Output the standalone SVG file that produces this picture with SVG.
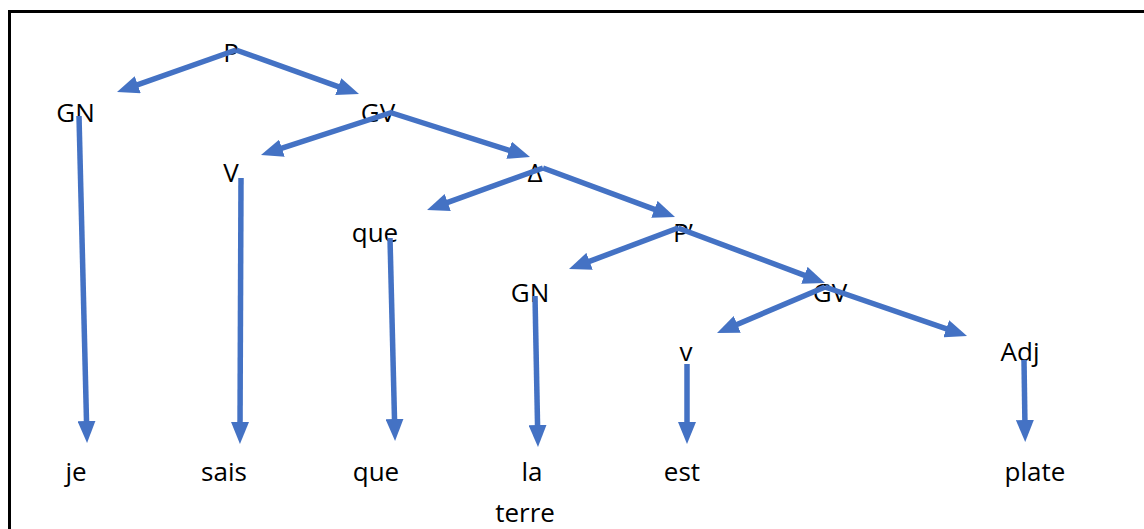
<svg xmlns="http://www.w3.org/2000/svg" width="1144" height="529" viewBox="0 0 1144 529">
<style>
.t{font-family:"Open Sans","Liberation Sans",sans-serif;font-size:26px;fill:#000;text-anchor:middle}
.c{stroke:#4472C4;stroke-width:5.5;fill:none;marker-end:url(#ah)}
</style>
<defs>
<marker id="ah" viewBox="0 0 22 18" markerWidth="22" markerHeight="18" markerUnits="userSpaceOnUse" refX="8" refY="9" orient="auto">
<path d="M0,0 L22,9 L0,18 z" fill="#4472C4"/>
</marker>
</defs>
<rect width="1144" height="529" fill="#fff"/>
<g id="frame" stroke="#000" stroke-width="3">
<line x1="8" y1="11.5" x2="1144" y2="11.5"/>
<line x1="9.5" y1="10" x2="9.5" y2="529"/>
</g>
<g id="nodes">
<g id="n-P"><text class="t" x="231" y="62">P</text></g>
<g id="n-GN1"><text class="t" x="75.5" y="122">GN</text></g>
<g id="n-GV1"><text class="t" x="378" y="122">GV</text></g>
<g id="n-V"><text class="t" x="231" y="182">V</text></g>
<g id="n-Delta"><text class="t" x="535" y="182">Δ</text></g>
<g id="n-que1"><text class="t" x="375" y="242">que</text></g>
<g id="n-P2"><text class="t" x="683" y="242">P’</text></g>
<g id="n-GN2"><text class="t" x="530" y="302">GN</text></g>
<g id="n-GV2"><text class="t" x="830" y="302">GV</text></g>
<g id="n-v"><text class="t" x="686" y="361">v</text></g>
<g id="n-Adj"><text class="t" x="1020" y="361">Adj</text></g>
<g id="n-je"><text class="t" x="76" y="481">je</text></g>
<g id="n-sais"><text class="t" x="224" y="481">sais</text></g>
<g id="n-que2"><text class="t" x="376" y="481">que</text></g>
<g id="n-la"><text class="t" x="532" y="481">la</text></g>
<g id="n-terre"><text class="t" x="525" y="522">terre</text></g>
<g id="n-est"><text class="t" x="682" y="481">est</text></g>
<g id="n-plate"><text class="t" x="1035" y="481">plate</text></g>
</g>
<g id="connectors">
<line class="c" x1="236" y1="50" x2="130.2" y2="87.3"/>
<line class="c" x1="236" y1="50" x2="345.8" y2="89.3"/>
<line class="c" x1="79" y1="116" x2="86.7" y2="429"/>
<line class="c" x1="393" y1="112" x2="274.3" y2="150.7"/>
<line class="c" x1="392" y1="113" x2="516.7" y2="152.7"/>
<line class="c" x1="241" y1="178" x2="240" y2="430"/>
<line class="c" x1="543" y1="168" x2="440.2" y2="205.2"/>
<line class="c" x1="543" y1="168" x2="661.9" y2="212.1"/>
<line class="c" x1="390" y1="238" x2="394.7" y2="427"/>
<line class="c" x1="678" y1="228" x2="582.1" y2="264.1"/>
<line class="c" x1="678" y1="228" x2="811.9" y2="278.1"/>
<line class="c" x1="535" y1="296" x2="537.7" y2="433"/>
<line class="c" x1="825" y1="287" x2="729.9" y2="327.5"/>
<line class="c" x1="825" y1="287" x2="953.8" y2="331.4"/>
<line class="c" x1="687" y1="364" x2="687" y2="430"/>
<line class="c" x1="1024" y1="360" x2="1025" y2="428"/>
</g>
</svg>
